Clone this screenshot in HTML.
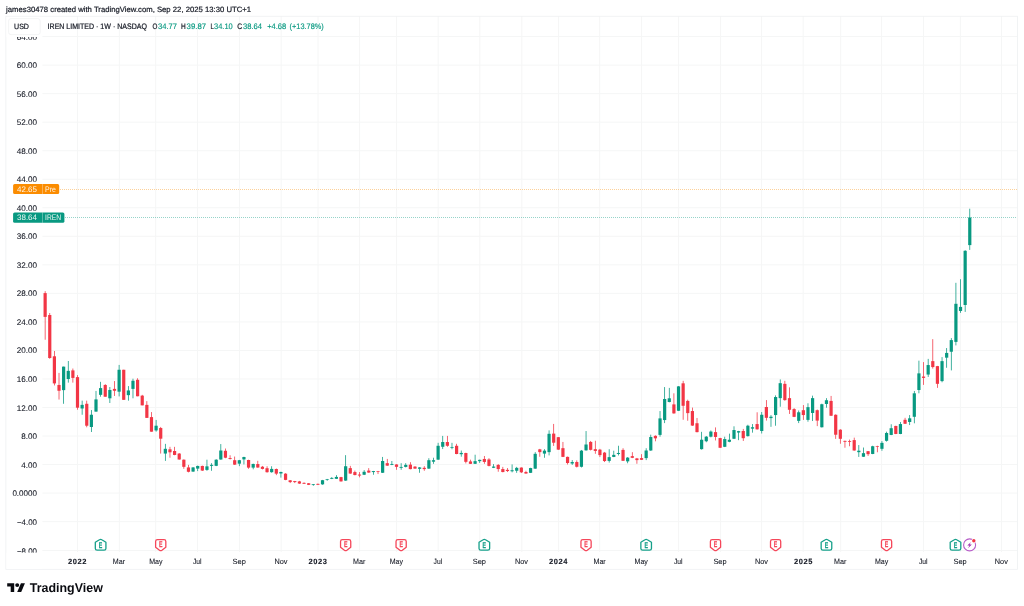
<!DOCTYPE html>
<html><head><meta charset="utf-8"><title>IREN chart</title>
<style>
html,body{margin:0;padding:0;background:#fff;}
body{width:1024px;height:606px;overflow:hidden;font-family:"Liberation Sans",sans-serif;}
svg{display:block;position:absolute;left:0;top:0;will-change:transform;}
text{font-family:"Liberation Sans",sans-serif;text-rendering:geometricPrecision;}
</style></head><body>
<svg width="1024" height="606" viewBox="0 0 1024 606">
<rect width="1024" height="606" fill="#ffffff"/>
<g stroke="#f5f6f6" stroke-width="1" fill="none">
<line x1="77.5" y1="16.25" x2="77.5" y2="552.0"/>
<line x1="119.4" y1="16.25" x2="119.4" y2="552.0"/>
<line x1="155.7" y1="16.25" x2="155.7" y2="552.0"/>
<line x1="197.5" y1="16.25" x2="197.5" y2="552.0"/>
<line x1="239.5" y1="16.25" x2="239.5" y2="552.0"/>
<line x1="281.2" y1="16.25" x2="281.2" y2="552.0"/>
<line x1="318.0" y1="16.25" x2="318.0" y2="552.0"/>
<line x1="359.6" y1="16.25" x2="359.6" y2="552.0"/>
<line x1="396.6" y1="16.25" x2="396.6" y2="552.0"/>
<line x1="438.2" y1="16.25" x2="438.2" y2="552.0"/>
<line x1="479.8" y1="16.25" x2="479.8" y2="552.0"/>
<line x1="521.8" y1="16.25" x2="521.8" y2="552.0"/>
<line x1="558.6" y1="16.25" x2="558.6" y2="552.0"/>
<line x1="599.7" y1="16.25" x2="599.7" y2="552.0"/>
<line x1="641.6" y1="16.25" x2="641.6" y2="552.0"/>
<line x1="678.6" y1="16.25" x2="678.6" y2="552.0"/>
<line x1="720.6" y1="16.25" x2="720.6" y2="552.0"/>
<line x1="761.6" y1="16.25" x2="761.6" y2="552.0"/>
<line x1="803.2" y1="16.25" x2="803.2" y2="552.0"/>
<line x1="840.7" y1="16.25" x2="840.7" y2="552.0"/>
<line x1="881.6" y1="16.25" x2="881.6" y2="552.0"/>
<line x1="923.5" y1="16.25" x2="923.5" y2="552.0"/>
<line x1="960.4" y1="16.25" x2="960.4" y2="552.0"/>
<line x1="1001.5" y1="16.25" x2="1001.5" y2="552.0"/>
<line x1="42.4" y1="521.63" x2="1017.5" y2="521.63"/>
<line x1="42.4" y1="493.10" x2="1017.5" y2="493.10"/>
<line x1="42.4" y1="464.57" x2="1017.5" y2="464.57"/>
<line x1="42.4" y1="436.04" x2="1017.5" y2="436.04"/>
<line x1="42.4" y1="407.50" x2="1017.5" y2="407.50"/>
<line x1="42.4" y1="378.97" x2="1017.5" y2="378.97"/>
<line x1="42.4" y1="350.44" x2="1017.5" y2="350.44"/>
<line x1="42.4" y1="321.91" x2="1017.5" y2="321.91"/>
<line x1="42.4" y1="293.38" x2="1017.5" y2="293.38"/>
<line x1="42.4" y1="264.84" x2="1017.5" y2="264.84"/>
<line x1="42.4" y1="236.31" x2="1017.5" y2="236.31"/>
<line x1="42.4" y1="207.78" x2="1017.5" y2="207.78"/>
<line x1="42.4" y1="179.25" x2="1017.5" y2="179.25"/>
<line x1="42.4" y1="150.72" x2="1017.5" y2="150.72"/>
<line x1="42.4" y1="122.18" x2="1017.5" y2="122.18"/>
<line x1="42.4" y1="93.65" x2="1017.5" y2="93.65"/>
<line x1="42.4" y1="65.12" x2="1017.5" y2="65.12"/>
<line x1="42.4" y1="36.59" x2="1017.5" y2="36.59"/>
<line x1="42.4" y1="550.5" x2="1017.5" y2="550.5"/>
</g>
<rect x="5.9" y="16.25" width="1011.6" height="553.05" fill="none" stroke="#eef0f2" stroke-width="0.8"/>
<line x1="60" y1="189.5" x2="1017" y2="189.5" stroke="#fb8c00" stroke-opacity="0.4" stroke-width="1" stroke-dasharray="1 1"/>
<line x1="65" y1="217.5" x2="1017" y2="217.5" stroke="#089981" stroke-opacity="0.42" stroke-width="1" stroke-dasharray="1 1"/>
<g>
<rect x="44.76" y="291.14" width="0.76" height="48.61" fill="#f23645"/><rect x="43.54" y="293.12" width="3.2" height="23.76" fill="#f23645"/>
<rect x="49.38" y="313.00" width="0.76" height="45.80" fill="#f23645"/><rect x="48.16" y="315.00" width="3.2" height="43.00" fill="#f23645"/>
<rect x="54.01" y="350.96" width="0.76" height="34.48" fill="#f23645"/><rect x="52.79" y="356.29" width="3.2" height="27.12" fill="#f23645"/>
<rect x="58.63" y="372.90" width="0.76" height="26.65" fill="#f23645"/><rect x="57.41" y="384.97" width="3.2" height="5.80" fill="#f23645"/>
<rect x="63.25" y="366.63" width="0.76" height="37.15" fill="#089981"/><rect x="62.03" y="366.63" width="3.2" height="23.51" fill="#089981"/>
<rect x="67.88" y="360.99" width="0.76" height="21.63" fill="#089981"/><rect x="66.66" y="370.86" width="3.2" height="8.15" fill="#089981"/>
<rect x="72.50" y="368.51" width="0.76" height="14.11" fill="#f23645"/><rect x="71.28" y="370.39" width="3.2" height="7.52" fill="#f23645"/>
<rect x="77.12" y="375.09" width="0.76" height="34.64" fill="#f23645"/><rect x="75.90" y="377.13" width="3.2" height="30.56" fill="#f23645"/>
<rect x="81.75" y="400.64" width="0.76" height="14.11" fill="#089981"/><rect x="80.53" y="404.87" width="3.2" height="3.61" fill="#089981"/>
<rect x="86.37" y="400.64" width="0.76" height="26.65" fill="#f23645"/><rect x="85.15" y="403.78" width="3.2" height="21.94" fill="#f23645"/>
<rect x="90.99" y="410.05" width="0.76" height="21.94" fill="#089981"/><rect x="89.77" y="414.75" width="3.2" height="12.23" fill="#089981"/>
<rect x="95.62" y="390.92" width="0.76" height="20.69" fill="#089981"/><rect x="94.40" y="399.39" width="3.2" height="12.23" fill="#089981"/>
<rect x="100.24" y="381.83" width="0.76" height="14.89" fill="#089981"/><rect x="99.02" y="388.10" width="3.2" height="6.74" fill="#089981"/>
<rect x="104.86" y="384.18" width="0.76" height="12.54" fill="#f23645"/><rect x="103.64" y="384.97" width="3.2" height="11.76" fill="#f23645"/>
<rect x="109.48" y="387.01" width="0.76" height="15.99" fill="#089981"/><rect x="108.26" y="389.98" width="3.2" height="8.31" fill="#089981"/>
<rect x="114.11" y="381.05" width="0.76" height="14.89" fill="#f23645"/><rect x="112.89" y="388.89" width="3.2" height="1.88" fill="#f23645"/>
<rect x="118.73" y="364.91" width="0.76" height="31.50" fill="#089981"/><rect x="117.51" y="369.76" width="3.2" height="21.94" fill="#089981"/>
<rect x="123.35" y="369.76" width="0.76" height="30.09" fill="#f23645"/><rect x="122.13" y="369.76" width="3.2" height="30.09" fill="#f23645"/>
<rect x="127.98" y="386.07" width="0.76" height="14.58" fill="#089981"/><rect x="126.76" y="390.45" width="3.2" height="4.70" fill="#089981"/>
<rect x="132.60" y="378.70" width="0.76" height="19.59" fill="#089981"/><rect x="131.38" y="380.74" width="3.2" height="8.15" fill="#089981"/>
<rect x="137.22" y="378.23" width="0.76" height="18.03" fill="#f23645"/><rect x="136.00" y="379.80" width="3.2" height="16.46" fill="#f23645"/>
<rect x="141.85" y="394.84" width="0.76" height="10.50" fill="#f23645"/><rect x="140.63" y="395.63" width="3.2" height="9.72" fill="#f23645"/>
<rect x="146.47" y="401.11" width="0.76" height="16.77" fill="#f23645"/><rect x="145.25" y="404.87" width="3.2" height="13.01" fill="#f23645"/>
<rect x="151.09" y="412.08" width="0.76" height="19.59" fill="#f23645"/><rect x="149.87" y="417.10" width="3.2" height="14.58" fill="#f23645"/>
<rect x="155.72" y="419.92" width="0.76" height="11.76" fill="#089981"/><rect x="154.50" y="425.72" width="3.2" height="4.70" fill="#089981"/>
<rect x="160.34" y="426.93" width="0.76" height="26.65" fill="#f23645"/><rect x="159.12" y="428.03" width="3.2" height="10.66" fill="#f23645"/>
<rect x="164.96" y="443.86" width="0.76" height="17.03" fill="#089981"/><rect x="163.74" y="448.81" width="3.2" height="4.75" fill="#089981"/>
<rect x="169.59" y="446.83" width="0.76" height="10.89" fill="#f23645"/><rect x="168.37" y="449.31" width="3.2" height="2.97" fill="#f23645"/>
<rect x="174.21" y="446.83" width="0.76" height="8.42" fill="#f23645"/><rect x="172.99" y="450.99" width="3.2" height="3.96" fill="#f23645"/>
<rect x="178.83" y="453.07" width="0.76" height="6.63" fill="#f23645"/><rect x="177.61" y="453.56" width="3.2" height="5.94" fill="#f23645"/>
<rect x="183.46" y="459.41" width="0.76" height="9.41" fill="#f23645"/><rect x="182.24" y="459.70" width="3.2" height="7.13" fill="#f23645"/>
<rect x="188.08" y="464.85" width="0.76" height="7.52" fill="#f23645"/><rect x="186.86" y="467.43" width="3.2" height="4.36" fill="#f23645"/>
<rect x="192.70" y="467.13" width="0.76" height="4.65" fill="#089981"/><rect x="191.48" y="467.43" width="3.2" height="4.16" fill="#089981"/>
<rect x="197.33" y="465.64" width="0.76" height="5.45" fill="#089981"/><rect x="196.11" y="465.94" width="3.2" height="2.67" fill="#089981"/>
<rect x="201.95" y="465.64" width="0.76" height="5.25" fill="#f23645"/><rect x="200.73" y="465.94" width="3.2" height="4.65" fill="#f23645"/>
<rect x="206.57" y="459.70" width="0.76" height="11.09" fill="#089981"/><rect x="205.35" y="466.34" width="3.2" height="3.56" fill="#089981"/>
<rect x="211.20" y="463.17" width="0.76" height="7.62" fill="#089981"/><rect x="209.98" y="464.85" width="3.2" height="0.99" fill="#089981"/>
<rect x="215.82" y="459.21" width="0.76" height="6.93" fill="#089981"/><rect x="214.60" y="459.70" width="3.2" height="6.14" fill="#089981"/>
<rect x="220.44" y="444.06" width="0.76" height="15.64" fill="#089981"/><rect x="219.22" y="450.50" width="3.2" height="9.01" fill="#089981"/>
<rect x="225.06" y="448.51" width="0.76" height="9.70" fill="#f23645"/><rect x="223.84" y="450.79" width="3.2" height="6.93" fill="#f23645"/>
<rect x="229.69" y="455.25" width="0.76" height="4.26" fill="#f23645"/><rect x="228.47" y="458.02" width="3.2" height="0.89" fill="#f23645"/>
<rect x="234.31" y="456.53" width="0.76" height="8.42" fill="#f23645"/><rect x="233.09" y="460.20" width="3.2" height="4.46" fill="#f23645"/>
<rect x="238.93" y="459.90" width="0.76" height="6.24" fill="#089981"/><rect x="237.71" y="460.20" width="3.2" height="3.47" fill="#089981"/>
<rect x="243.56" y="456.73" width="0.76" height="7.72" fill="#089981"/><rect x="242.34" y="457.03" width="3.2" height="2.38" fill="#089981"/>
<rect x="248.18" y="459.70" width="0.76" height="9.11" fill="#f23645"/><rect x="246.96" y="460.00" width="3.2" height="7.62" fill="#f23645"/>
<rect x="252.80" y="463.66" width="0.76" height="5.64" fill="#089981"/><rect x="251.58" y="463.96" width="3.2" height="3.66" fill="#089981"/>
<rect x="257.43" y="460.79" width="0.76" height="6.93" fill="#f23645"/><rect x="256.21" y="464.06" width="3.2" height="3.47" fill="#f23645"/>
<rect x="262.05" y="465.94" width="0.76" height="3.47" fill="#f23645"/><rect x="260.83" y="466.73" width="3.2" height="2.18" fill="#f23645"/>
<rect x="266.67" y="466.24" width="0.76" height="6.44" fill="#f23645"/><rect x="265.45" y="468.22" width="3.2" height="3.96" fill="#f23645"/>
<rect x="271.30" y="466.24" width="0.76" height="6.44" fill="#089981"/><rect x="270.08" y="468.91" width="3.2" height="3.27" fill="#089981"/>
<rect x="275.92" y="468.51" width="0.76" height="6.63" fill="#f23645"/><rect x="274.70" y="469.01" width="3.2" height="4.65" fill="#f23645"/>
<rect x="280.54" y="471.68" width="0.76" height="5.94" fill="#089981"/><rect x="279.32" y="471.98" width="3.2" height="1.49" fill="#089981"/>
<rect x="285.17" y="473.17" width="0.76" height="7.03" fill="#f23645"/><rect x="283.95" y="473.66" width="3.2" height="6.24" fill="#f23645"/>
<rect x="289.79" y="480.10" width="0.76" height="2.97" fill="#f23645"/><rect x="288.57" y="480.30" width="3.2" height="1.78" fill="#f23645"/>
<rect x="294.41" y="480.89" width="0.76" height="2.18" fill="#f23645"/><rect x="293.19" y="481.09" width="3.2" height="0.99" fill="#f23645"/>
<rect x="299.04" y="480.89" width="0.76" height="2.97" fill="#f23645"/><rect x="297.82" y="481.39" width="3.2" height="2.18" fill="#f23645"/>
<rect x="303.66" y="482.38" width="0.76" height="1.58" fill="#f23645"/><rect x="302.44" y="482.87" width="3.2" height="0.89" fill="#f23645"/>
<rect x="308.28" y="483.07" width="0.76" height="1.98" fill="#f23645"/><rect x="307.06" y="483.27" width="3.2" height="1.58" fill="#f23645"/>
<rect x="312.91" y="484.06" width="0.76" height="1.68" fill="#089981"/><rect x="311.69" y="484.26" width="3.2" height="0.79" fill="#089981"/>
<rect x="317.53" y="483.56" width="0.76" height="1.49" fill="#f23645"/><rect x="316.31" y="483.86" width="3.2" height="0.89" fill="#f23645"/>
<rect x="322.15" y="479.90" width="0.76" height="4.85" fill="#089981"/><rect x="320.93" y="480.20" width="3.2" height="4.16" fill="#089981"/>
<rect x="326.78" y="478.91" width="0.76" height="1.88" fill="#089981"/><rect x="325.56" y="479.20" width="3.2" height="0.70" fill="#089981"/>
<rect x="331.40" y="477.13" width="0.76" height="1.98" fill="#089981"/><rect x="330.18" y="477.92" width="3.2" height="0.89" fill="#089981"/>
<rect x="336.02" y="475.15" width="0.76" height="3.86" fill="#089981"/><rect x="334.80" y="476.93" width="3.2" height="1.88" fill="#089981"/>
<rect x="340.64" y="476.83" width="0.76" height="4.75" fill="#f23645"/><rect x="339.42" y="477.13" width="3.2" height="4.26" fill="#f23645"/>
<rect x="345.27" y="455.15" width="0.76" height="25.64" fill="#089981"/><rect x="344.05" y="466.24" width="3.2" height="14.36" fill="#089981"/>
<rect x="349.89" y="465.84" width="0.76" height="7.92" fill="#f23645"/><rect x="348.67" y="468.12" width="3.2" height="5.45" fill="#f23645"/>
<rect x="354.51" y="470.59" width="0.76" height="4.75" fill="#f23645"/><rect x="353.29" y="472.08" width="3.2" height="2.97" fill="#f23645"/>
<rect x="359.14" y="472.08" width="0.76" height="5.25" fill="#f23645"/><rect x="357.92" y="474.55" width="3.2" height="0.99" fill="#f23645"/>
<rect x="363.76" y="470.10" width="0.76" height="4.95" fill="#089981"/><rect x="362.54" y="471.78" width="3.2" height="2.97" fill="#089981"/>
<rect x="368.38" y="468.12" width="0.76" height="4.65" fill="#f23645"/><rect x="367.16" y="470.59" width="3.2" height="1.98" fill="#f23645"/>
<rect x="373.01" y="470.89" width="0.76" height="3.86" fill="#089981"/><rect x="371.79" y="471.09" width="3.2" height="0.99" fill="#089981"/>
<rect x="377.63" y="470.89" width="0.76" height="3.17" fill="#f23645"/><rect x="376.41" y="471.09" width="3.2" height="0.70" fill="#f23645"/>
<rect x="382.25" y="456.93" width="0.76" height="16.04" fill="#089981"/><rect x="381.03" y="460.99" width="3.2" height="11.78" fill="#089981"/>
<rect x="386.88" y="458.91" width="0.76" height="6.93" fill="#f23645"/><rect x="385.66" y="463.17" width="3.2" height="2.48" fill="#f23645"/>
<rect x="391.50" y="460.99" width="0.76" height="4.16" fill="#089981"/><rect x="390.28" y="463.96" width="3.2" height="0.89" fill="#089981"/>
<rect x="396.12" y="464.16" width="0.76" height="5.64" fill="#f23645"/><rect x="394.90" y="464.46" width="3.2" height="2.38" fill="#f23645"/>
<rect x="400.75" y="463.17" width="0.76" height="6.63" fill="#089981"/><rect x="399.53" y="466.93" width="3.2" height="0.89" fill="#089981"/>
<rect x="405.37" y="463.17" width="0.76" height="4.26" fill="#089981"/><rect x="404.15" y="464.85" width="3.2" height="2.08" fill="#089981"/>
<rect x="409.99" y="462.18" width="0.76" height="7.13" fill="#f23645"/><rect x="408.77" y="464.65" width="3.2" height="4.46" fill="#f23645"/>
<rect x="414.62" y="466.14" width="0.76" height="2.67" fill="#f23645"/><rect x="413.40" y="466.63" width="3.2" height="1.98" fill="#f23645"/>
<rect x="419.24" y="467.13" width="0.76" height="5.64" fill="#089981"/><rect x="418.02" y="467.43" width="3.2" height="1.39" fill="#089981"/>
<rect x="423.86" y="466.14" width="0.76" height="4.65" fill="#f23645"/><rect x="422.64" y="467.82" width="3.2" height="1.29" fill="#f23645"/>
<rect x="428.49" y="458.22" width="0.76" height="10.59" fill="#089981"/><rect x="427.27" y="460.20" width="3.2" height="8.42" fill="#089981"/>
<rect x="433.11" y="457.72" width="0.76" height="6.14" fill="#089981"/><rect x="431.89" y="460.20" width="3.2" height="1.49" fill="#089981"/>
<rect x="437.73" y="442.82" width="0.76" height="17.03" fill="#089981"/><rect x="436.51" y="445.79" width="3.2" height="13.86" fill="#089981"/>
<rect x="442.36" y="435.89" width="0.76" height="13.17" fill="#089981"/><rect x="441.14" y="442.03" width="3.2" height="4.75" fill="#089981"/>
<rect x="446.98" y="435.89" width="0.76" height="10.89" fill="#f23645"/><rect x="445.76" y="442.03" width="3.2" height="3.76" fill="#f23645"/>
<rect x="451.60" y="442.82" width="0.76" height="6.44" fill="#089981"/><rect x="450.38" y="446.98" width="3.2" height="0.79" fill="#089981"/>
<rect x="456.22" y="443.81" width="0.76" height="10.40" fill="#f23645"/><rect x="455.00" y="445.79" width="3.2" height="8.22" fill="#f23645"/>
<rect x="460.85" y="450.54" width="0.76" height="6.14" fill="#089981"/><rect x="459.63" y="452.92" width="3.2" height="1.29" fill="#089981"/>
<rect x="465.47" y="452.72" width="0.76" height="10.69" fill="#f23645"/><rect x="464.25" y="453.02" width="3.2" height="8.81" fill="#f23645"/>
<rect x="470.09" y="459.65" width="0.76" height="4.36" fill="#f23645"/><rect x="468.87" y="461.44" width="3.2" height="2.38" fill="#f23645"/>
<rect x="474.72" y="454.70" width="0.76" height="9.31" fill="#089981"/><rect x="473.50" y="461.14" width="3.2" height="2.67" fill="#089981"/>
<rect x="479.34" y="459.65" width="0.76" height="3.27" fill="#089981"/><rect x="478.12" y="459.85" width="3.2" height="1.29" fill="#089981"/>
<rect x="483.96" y="455.99" width="0.76" height="7.82" fill="#f23645"/><rect x="482.74" y="458.96" width="3.2" height="2.97" fill="#f23645"/>
<rect x="488.59" y="458.17" width="0.76" height="8.22" fill="#f23645"/><rect x="487.37" y="459.46" width="3.2" height="6.44" fill="#f23645"/>
<rect x="493.21" y="464.11" width="0.76" height="3.96" fill="#089981"/><rect x="491.99" y="466.58" width="3.2" height="1.19" fill="#089981"/>
<rect x="497.83" y="464.11" width="0.76" height="7.62" fill="#f23645"/><rect x="496.61" y="464.90" width="3.2" height="4.16" fill="#f23645"/>
<rect x="502.46" y="466.88" width="0.76" height="5.45" fill="#f23645"/><rect x="501.24" y="469.06" width="3.2" height="2.97" fill="#f23645"/>
<rect x="507.08" y="468.07" width="0.76" height="3.96" fill="#f23645"/><rect x="505.86" y="469.85" width="3.2" height="1.19" fill="#f23645"/>
<rect x="511.70" y="464.41" width="0.76" height="7.92" fill="#089981"/><rect x="510.48" y="470.25" width="3.2" height="0.99" fill="#089981"/>
<rect x="516.33" y="466.88" width="0.76" height="5.94" fill="#089981"/><rect x="515.11" y="467.87" width="3.2" height="2.87" fill="#089981"/>
<rect x="520.95" y="467.38" width="0.76" height="5.64" fill="#f23645"/><rect x="519.73" y="467.57" width="3.2" height="4.75" fill="#f23645"/>
<rect x="525.57" y="470.74" width="0.76" height="2.97" fill="#f23645"/><rect x="524.35" y="472.03" width="3.2" height="1.49" fill="#f23645"/>
<rect x="530.20" y="467.77" width="0.76" height="5.25" fill="#089981"/><rect x="528.98" y="468.07" width="3.2" height="4.75" fill="#089981"/>
<rect x="534.82" y="452.13" width="0.76" height="16.73" fill="#089981"/><rect x="533.60" y="453.81" width="3.2" height="14.85" fill="#089981"/>
<rect x="539.44" y="448.86" width="0.76" height="7.92" fill="#f23645"/><rect x="538.22" y="449.36" width="3.2" height="2.77" fill="#f23645"/>
<rect x="544.07" y="449.16" width="0.76" height="8.61" fill="#089981"/><rect x="542.85" y="450.64" width="3.2" height="2.97" fill="#089981"/>
<rect x="548.69" y="430.35" width="0.76" height="25.05" fill="#089981"/><rect x="547.47" y="433.81" width="3.2" height="18.32" fill="#089981"/>
<rect x="553.31" y="423.91" width="0.76" height="21.98" fill="#f23645"/><rect x="552.09" y="433.61" width="3.2" height="9.11" fill="#f23645"/>
<rect x="557.94" y="436.98" width="0.76" height="12.87" fill="#f23645"/><rect x="556.72" y="437.18" width="3.2" height="12.48" fill="#f23645"/>
<rect x="562.56" y="441.93" width="0.76" height="15.15" fill="#f23645"/><rect x="561.34" y="448.17" width="3.2" height="8.71" fill="#f23645"/>
<rect x="567.18" y="456.58" width="0.76" height="7.92" fill="#f23645"/><rect x="565.96" y="456.88" width="3.2" height="6.14" fill="#f23645"/>
<rect x="571.80" y="460.05" width="0.76" height="4.95" fill="#089981"/><rect x="570.58" y="462.03" width="3.2" height="1.49" fill="#089981"/>
<rect x="576.43" y="460.35" width="0.76" height="7.13" fill="#f23645"/><rect x="575.21" y="462.03" width="3.2" height="4.75" fill="#f23645"/>
<rect x="581.05" y="449.95" width="0.76" height="17.52" fill="#089981"/><rect x="579.83" y="450.64" width="3.2" height="16.14" fill="#089981"/>
<rect x="585.67" y="431.04" width="0.76" height="19.60" fill="#089981"/><rect x="584.45" y="444.50" width="3.2" height="5.84" fill="#089981"/>
<rect x="590.30" y="440.94" width="0.76" height="9.50" fill="#f23645"/><rect x="589.08" y="441.93" width="3.2" height="7.92" fill="#f23645"/>
<rect x="594.92" y="440.74" width="0.76" height="13.07" fill="#f23645"/><rect x="593.70" y="449.16" width="3.2" height="1.78" fill="#f23645"/>
<rect x="599.54" y="448.86" width="0.76" height="8.22" fill="#f23645"/><rect x="598.32" y="449.65" width="3.2" height="5.45" fill="#f23645"/>
<rect x="604.17" y="451.93" width="0.76" height="10.10" fill="#f23645"/><rect x="602.95" y="452.62" width="3.2" height="8.42" fill="#f23645"/>
<rect x="608.79" y="449.21" width="0.76" height="13.37" fill="#089981"/><rect x="607.57" y="457.13" width="3.2" height="3.76" fill="#089981"/>
<rect x="613.41" y="450.69" width="0.76" height="6.44" fill="#089981"/><rect x="612.19" y="454.85" width="3.2" height="2.08" fill="#089981"/>
<rect x="618.04" y="445.74" width="0.76" height="9.70" fill="#089981"/><rect x="616.82" y="452.97" width="3.2" height="0.99" fill="#089981"/>
<rect x="622.66" y="448.22" width="0.76" height="12.77" fill="#f23645"/><rect x="621.44" y="449.90" width="3.2" height="10.89" fill="#f23645"/>
<rect x="627.28" y="457.13" width="0.76" height="6.14" fill="#089981"/><rect x="626.06" y="457.62" width="3.2" height="3.76" fill="#089981"/>
<rect x="631.91" y="452.18" width="0.76" height="5.94" fill="#f23645"/><rect x="630.69" y="456.14" width="3.2" height="1.68" fill="#f23645"/>
<rect x="636.53" y="457.92" width="0.76" height="5.84" fill="#f23645"/><rect x="635.31" y="458.42" width="3.2" height="1.68" fill="#f23645"/>
<rect x="641.15" y="454.16" width="0.76" height="5.84" fill="#f23645"/><rect x="639.93" y="458.12" width="3.2" height="1.68" fill="#f23645"/>
<rect x="645.78" y="448.22" width="0.76" height="11.88" fill="#089981"/><rect x="644.56" y="450.50" width="3.2" height="7.62" fill="#089981"/>
<rect x="650.40" y="434.65" width="0.76" height="16.24" fill="#089981"/><rect x="649.18" y="437.03" width="3.2" height="13.47" fill="#089981"/>
<rect x="655.02" y="435.35" width="0.76" height="5.94" fill="#f23645"/><rect x="653.80" y="435.84" width="3.2" height="2.48" fill="#f23645"/>
<rect x="659.65" y="411.04" width="0.76" height="25.64" fill="#089981"/><rect x="658.43" y="418.39" width="3.2" height="16.50" fill="#089981"/>
<rect x="664.27" y="387.06" width="0.76" height="36.04" fill="#089981"/><rect x="663.05" y="398.98" width="3.2" height="21.07" fill="#089981"/>
<rect x="668.89" y="387.89" width="0.76" height="14.42" fill="#089981"/><rect x="667.67" y="398.29" width="3.2" height="3.74" fill="#089981"/>
<rect x="673.52" y="393.30" width="0.76" height="20.38" fill="#f23645"/><rect x="672.30" y="404.39" width="3.2" height="9.01" fill="#f23645"/>
<rect x="678.14" y="386.09" width="0.76" height="24.95" fill="#089981"/><rect x="676.92" y="386.37" width="3.2" height="24.40" fill="#089981"/>
<rect x="682.76" y="380.82" width="0.76" height="38.95" fill="#f23645"/><rect x="681.54" y="383.32" width="3.2" height="22.46" fill="#f23645"/>
<rect x="687.38" y="399.67" width="0.76" height="21.07" fill="#f23645"/><rect x="686.16" y="400.92" width="3.2" height="12.20" fill="#f23645"/>
<rect x="692.01" y="407.57" width="0.76" height="18.30" fill="#f23645"/><rect x="690.79" y="411.04" width="3.2" height="14.55" fill="#f23645"/>
<rect x="696.63" y="417.97" width="0.76" height="14.42" fill="#f23645"/><rect x="695.41" y="423.24" width="3.2" height="8.87" fill="#f23645"/>
<rect x="701.25" y="431.83" width="0.76" height="17.74" fill="#089981"/><rect x="700.03" y="439.73" width="3.2" height="9.43" fill="#089981"/>
<rect x="705.88" y="435.99" width="0.76" height="6.24" fill="#089981"/><rect x="704.66" y="436.68" width="3.2" height="4.57" fill="#089981"/>
<rect x="710.50" y="430.45" width="0.76" height="6.93" fill="#089981"/><rect x="709.28" y="431.55" width="3.2" height="5.13" fill="#089981"/>
<rect x="715.12" y="427.40" width="0.76" height="13.03" fill="#f23645"/><rect x="713.90" y="432.11" width="3.2" height="4.85" fill="#f23645"/>
<rect x="719.75" y="437.79" width="0.76" height="10.26" fill="#f23645"/><rect x="718.53" y="438.07" width="3.2" height="9.70" fill="#f23645"/>
<rect x="724.37" y="436.68" width="0.76" height="10.40" fill="#089981"/><rect x="723.15" y="439.04" width="3.2" height="7.76" fill="#089981"/>
<rect x="728.99" y="433.63" width="0.76" height="8.59" fill="#089981"/><rect x="727.77" y="439.73" width="3.2" height="2.08" fill="#089981"/>
<rect x="733.62" y="426.29" width="0.76" height="12.75" fill="#089981"/><rect x="732.40" y="430.03" width="3.2" height="8.73" fill="#089981"/>
<rect x="738.24" y="430.86" width="0.76" height="9.29" fill="#089981"/><rect x="737.02" y="431.14" width="3.2" height="1.39" fill="#089981"/>
<rect x="742.86" y="428.91" width="0.76" height="12.06" fill="#f23645"/><rect x="741.64" y="430.99" width="3.2" height="7.21" fill="#f23645"/>
<rect x="747.49" y="424.75" width="0.76" height="11.78" fill="#089981"/><rect x="746.27" y="425.72" width="3.2" height="10.40" fill="#089981"/>
<rect x="752.11" y="424.06" width="0.76" height="8.59" fill="#089981"/><rect x="750.89" y="427.25" width="3.2" height="1.39" fill="#089981"/>
<rect x="756.73" y="412.28" width="0.76" height="17.33" fill="#f23645"/><rect x="755.51" y="424.06" width="3.2" height="5.27" fill="#f23645"/>
<rect x="761.36" y="412.00" width="0.76" height="21.49" fill="#089981"/><rect x="760.14" y="414.77" width="3.2" height="16.22" fill="#089981"/>
<rect x="765.98" y="400.08" width="0.76" height="20.51" fill="#f23645"/><rect x="764.76" y="407.01" width="3.2" height="10.81" fill="#f23645"/>
<rect x="770.60" y="415.05" width="0.76" height="11.78" fill="#089981"/><rect x="769.38" y="416.71" width="3.2" height="1.39" fill="#089981"/>
<rect x="775.23" y="395.37" width="0.76" height="30.36" fill="#089981"/><rect x="774.01" y="397.03" width="3.2" height="18.02" fill="#089981"/>
<rect x="779.85" y="379.43" width="0.76" height="27.31" fill="#089981"/><rect x="778.63" y="383.17" width="3.2" height="14.97" fill="#089981"/>
<rect x="784.47" y="380.81" width="0.76" height="19.96" fill="#f23645"/><rect x="783.25" y="383.86" width="3.2" height="16.22" fill="#f23645"/>
<rect x="789.10" y="387.33" width="0.76" height="26.61" fill="#f23645"/><rect x="787.88" y="398.14" width="3.2" height="11.64" fill="#f23645"/>
<rect x="793.72" y="408.12" width="0.76" height="9.01" fill="#f23645"/><rect x="792.50" y="409.09" width="3.2" height="7.76" fill="#f23645"/>
<rect x="798.34" y="410.48" width="0.76" height="12.61" fill="#089981"/><rect x="797.12" y="412.28" width="3.2" height="8.59" fill="#089981"/>
<rect x="802.96" y="405.07" width="0.76" height="14.83" fill="#f23645"/><rect x="801.74" y="410.20" width="3.2" height="4.85" fill="#f23645"/>
<rect x="807.59" y="403.27" width="0.76" height="18.44" fill="#089981"/><rect x="806.37" y="407.15" width="3.2" height="12.75" fill="#089981"/>
<rect x="812.21" y="395.64" width="0.76" height="25.37" fill="#089981"/><rect x="810.99" y="398.14" width="3.2" height="14.83" fill="#089981"/>
<rect x="816.83" y="409.50" width="0.76" height="16.63" fill="#f23645"/><rect x="815.61" y="410.20" width="3.2" height="10.40" fill="#f23645"/>
<rect x="821.46" y="403.68" width="0.76" height="23.84" fill="#089981"/><rect x="820.24" y="404.24" width="3.2" height="23.01" fill="#089981"/>
<rect x="826.08" y="398.14" width="0.76" height="9.56" fill="#089981"/><rect x="824.86" y="400.22" width="3.2" height="3.74" fill="#089981"/>
<rect x="830.70" y="395.92" width="0.76" height="20.10" fill="#f23645"/><rect x="829.48" y="400.91" width="3.2" height="14.83" fill="#f23645"/>
<rect x="835.33" y="414.36" width="0.76" height="24.53" fill="#f23645"/><rect x="834.11" y="414.77" width="3.2" height="19.96" fill="#f23645"/>
<rect x="839.95" y="429.21" width="0.76" height="14.55" fill="#f23645"/><rect x="838.73" y="429.70" width="3.2" height="9.11" fill="#f23645"/>
<rect x="844.57" y="440.59" width="0.76" height="7.13" fill="#f23645"/><rect x="843.35" y="440.89" width="3.2" height="0.89" fill="#f23645"/>
<rect x="849.20" y="439.60" width="0.76" height="6.63" fill="#f23645"/><rect x="847.98" y="441.09" width="3.2" height="0.79" fill="#f23645"/>
<rect x="853.82" y="437.62" width="0.76" height="13.07" fill="#f23645"/><rect x="852.60" y="440.10" width="3.2" height="10.40" fill="#f23645"/>
<rect x="858.44" y="445.05" width="0.76" height="11.88" fill="#089981"/><rect x="857.22" y="450.69" width="3.2" height="1.49" fill="#089981"/>
<rect x="863.07" y="447.52" width="0.76" height="9.41" fill="#089981"/><rect x="861.85" y="453.17" width="3.2" height="3.56" fill="#089981"/>
<rect x="867.69" y="450.99" width="0.76" height="4.95" fill="#f23645"/><rect x="866.47" y="451.19" width="3.2" height="2.97" fill="#f23645"/>
<rect x="872.31" y="445.74" width="0.76" height="8.42" fill="#089981"/><rect x="871.09" y="446.24" width="3.2" height="7.72" fill="#089981"/>
<rect x="876.94" y="445.74" width="0.76" height="6.53" fill="#f23645"/><rect x="875.72" y="446.04" width="3.2" height="0.70" fill="#f23645"/>
<rect x="881.56" y="441.09" width="0.76" height="9.70" fill="#089981"/><rect x="880.34" y="442.87" width="3.2" height="5.94" fill="#089981"/>
<rect x="886.18" y="431.68" width="0.76" height="9.90" fill="#089981"/><rect x="884.96" y="432.97" width="3.2" height="7.82" fill="#089981"/>
<rect x="890.81" y="424.26" width="0.76" height="10.89" fill="#089981"/><rect x="889.59" y="428.22" width="3.2" height="6.73" fill="#089981"/>
<rect x="895.43" y="425.74" width="0.76" height="8.42" fill="#f23645"/><rect x="894.21" y="425.94" width="3.2" height="8.02" fill="#f23645"/>
<rect x="900.05" y="421.98" width="0.76" height="12.18" fill="#089981"/><rect x="898.83" y="424.06" width="3.2" height="9.90" fill="#089981"/>
<rect x="904.68" y="417.82" width="0.76" height="6.14" fill="#f23645"/><rect x="903.46" y="419.80" width="3.2" height="3.96" fill="#f23645"/>
<rect x="909.30" y="415.05" width="0.76" height="10.00" fill="#089981"/><rect x="908.08" y="418.32" width="3.2" height="3.66" fill="#089981"/>
<rect x="913.92" y="390.95" width="0.76" height="32.35" fill="#089981"/><rect x="912.70" y="393.30" width="3.2" height="23.50" fill="#089981"/>
<rect x="918.54" y="360.65" width="0.76" height="32.67" fill="#089981"/><rect x="917.32" y="373.37" width="3.2" height="16.63" fill="#089981"/>
<rect x="923.17" y="362.08" width="0.76" height="22.81" fill="#f23645"/><rect x="921.95" y="376.57" width="3.2" height="1.31" fill="#f23645"/>
<rect x="927.79" y="358.87" width="0.76" height="18.06" fill="#089981"/><rect x="926.57" y="365.05" width="3.2" height="9.50" fill="#089981"/>
<rect x="932.41" y="339.15" width="0.76" height="29.47" fill="#f23645"/><rect x="931.19" y="361.13" width="3.2" height="5.94" fill="#f23645"/>
<rect x="937.04" y="365.88" width="0.76" height="21.98" fill="#f23645"/><rect x="935.82" y="366.12" width="3.2" height="17.70" fill="#f23645"/>
<rect x="941.66" y="357.09" width="0.76" height="25.19" fill="#089981"/><rect x="940.44" y="361.13" width="3.2" height="19.96" fill="#089981"/>
<rect x="946.28" y="348.06" width="0.76" height="19.72" fill="#089981"/><rect x="945.06" y="352.93" width="3.2" height="4.75" fill="#089981"/>
<rect x="950.91" y="338.08" width="0.76" height="32.32" fill="#089981"/><rect x="949.69" y="340.10" width="3.2" height="11.64" fill="#089981"/>
<rect x="955.53" y="282.80" width="0.76" height="62.60" fill="#089981"/><rect x="954.31" y="303.80" width="3.2" height="38.10" fill="#089981"/>
<rect x="960.15" y="279.20" width="0.76" height="33.65" fill="#089981"/><rect x="958.93" y="306.90" width="3.2" height="4.05" fill="#089981"/>
<rect x="964.78" y="250.20" width="0.76" height="61.70" fill="#089981"/><rect x="963.56" y="250.80" width="3.2" height="54.20" fill="#089981"/>
<rect x="969.40" y="208.70" width="0.76" height="41.20" fill="#089981"/><rect x="968.18" y="217.50" width="3.2" height="27.60" fill="#089981"/>
</g>
<text x="16.90" y="553.56" font-size="8.1" font-weight="normal" fill="#131722" stroke="#131722" stroke-width="0.08" text-anchor="start" textLength="20.1" lengthAdjust="spacingAndGlyphs" xml:space="preserve">−8.00</text>
<text x="16.90" y="524.63" font-size="8.1" font-weight="normal" fill="#131722" stroke="#131722" stroke-width="0.08" text-anchor="start" textLength="20.1" lengthAdjust="spacingAndGlyphs" xml:space="preserve">−4.00</text>
<text x="12.40" y="496.10" font-size="8.1" font-weight="normal" fill="#131722" stroke="#131722" stroke-width="0.08" text-anchor="start" textLength="24.6" lengthAdjust="spacingAndGlyphs" xml:space="preserve">0.0000</text>
<text x="21.30" y="467.57" font-size="8.1" font-weight="normal" fill="#131722" stroke="#131722" stroke-width="0.08" text-anchor="start" textLength="15.7" lengthAdjust="spacingAndGlyphs" xml:space="preserve">4.00</text>
<text x="21.30" y="439.04" font-size="8.1" font-weight="normal" fill="#131722" stroke="#131722" stroke-width="0.08" text-anchor="start" textLength="15.7" lengthAdjust="spacingAndGlyphs" xml:space="preserve">8.00</text>
<text x="16.70" y="410.50" font-size="8.1" font-weight="normal" fill="#131722" stroke="#131722" stroke-width="0.08" text-anchor="start" textLength="20.3" lengthAdjust="spacingAndGlyphs" xml:space="preserve">12.00</text>
<text x="16.70" y="381.97" font-size="8.1" font-weight="normal" fill="#131722" stroke="#131722" stroke-width="0.08" text-anchor="start" textLength="20.3" lengthAdjust="spacingAndGlyphs" xml:space="preserve">16.00</text>
<text x="16.70" y="353.44" font-size="8.1" font-weight="normal" fill="#131722" stroke="#131722" stroke-width="0.08" text-anchor="start" textLength="20.3" lengthAdjust="spacingAndGlyphs" xml:space="preserve">20.00</text>
<text x="16.70" y="324.91" font-size="8.1" font-weight="normal" fill="#131722" stroke="#131722" stroke-width="0.08" text-anchor="start" textLength="20.3" lengthAdjust="spacingAndGlyphs" xml:space="preserve">24.00</text>
<text x="16.70" y="296.38" font-size="8.1" font-weight="normal" fill="#131722" stroke="#131722" stroke-width="0.08" text-anchor="start" textLength="20.3" lengthAdjust="spacingAndGlyphs" xml:space="preserve">28.00</text>
<text x="16.70" y="267.84" font-size="8.1" font-weight="normal" fill="#131722" stroke="#131722" stroke-width="0.08" text-anchor="start" textLength="20.3" lengthAdjust="spacingAndGlyphs" xml:space="preserve">32.00</text>
<text x="16.70" y="239.31" font-size="8.1" font-weight="normal" fill="#131722" stroke="#131722" stroke-width="0.08" text-anchor="start" textLength="20.3" lengthAdjust="spacingAndGlyphs" xml:space="preserve">36.00</text>
<text x="16.70" y="210.78" font-size="8.1" font-weight="normal" fill="#131722" stroke="#131722" stroke-width="0.08" text-anchor="start" textLength="20.3" lengthAdjust="spacingAndGlyphs" xml:space="preserve">40.00</text>
<text x="16.70" y="182.25" font-size="8.1" font-weight="normal" fill="#131722" stroke="#131722" stroke-width="0.08" text-anchor="start" textLength="20.3" lengthAdjust="spacingAndGlyphs" xml:space="preserve">44.00</text>
<text x="16.70" y="153.72" font-size="8.1" font-weight="normal" fill="#131722" stroke="#131722" stroke-width="0.08" text-anchor="start" textLength="20.3" lengthAdjust="spacingAndGlyphs" xml:space="preserve">48.00</text>
<text x="16.70" y="125.18" font-size="8.1" font-weight="normal" fill="#131722" stroke="#131722" stroke-width="0.08" text-anchor="start" textLength="20.3" lengthAdjust="spacingAndGlyphs" xml:space="preserve">52.00</text>
<text x="16.70" y="96.65" font-size="8.1" font-weight="normal" fill="#131722" stroke="#131722" stroke-width="0.08" text-anchor="start" textLength="20.3" lengthAdjust="spacingAndGlyphs" xml:space="preserve">56.00</text>
<text x="16.70" y="68.12" font-size="8.1" font-weight="normal" fill="#131722" stroke="#131722" stroke-width="0.08" text-anchor="start" textLength="20.3" lengthAdjust="spacingAndGlyphs" xml:space="preserve">60.00</text>
<text x="16.70" y="39.59" font-size="8.1" font-weight="normal" fill="#131722" stroke="#131722" stroke-width="0.08" text-anchor="start" textLength="20.3" lengthAdjust="spacingAndGlyphs" xml:space="preserve">64.00</text>
<rect x="6.5" y="16.85" width="35.3" height="20.15" fill="#fff"/>
<rect x="6.5" y="552.6" width="35.3" height="16.09999999999993" fill="#fff"/>
<rect x="8.6" y="18.6" width="31.6" height="16.0" rx="2.4" fill="#fff" stroke="#f0f1f3" stroke-width="0.8"/>
<text x="14.0" y="28.9" font-size="7.6" font-weight="normal" fill="#131722" stroke="#131722" stroke-width="0.2" text-anchor="start" textLength="15.0" lengthAdjust="spacingAndGlyphs" xml:space="preserve">USD</text>
<text x="6.1" y="12.0" font-size="7.7" font-weight="normal" fill="#131722" stroke="#131722" stroke-width="0.2" text-anchor="start" textLength="245" lengthAdjust="spacingAndGlyphs" xml:space="preserve">james30478 created with TradingView.com, Sep 22, 2025 13:30 UTC+1</text>
<text x="47.6" y="28.7" font-size="8.0" font-weight="normal" fill="#131722" stroke="#131722" stroke-width="0.22" text-anchor="start" textLength="99.3" lengthAdjust="spacingAndGlyphs" xml:space="preserve">IREN LIMITED · 1W · NASDAQ</text>
<text x="152.4" y="28.7" font-size="8.0" font-weight="normal" fill="#131722" stroke="#131722" stroke-width="0.22" text-anchor="start" textLength="4.9" lengthAdjust="spacingAndGlyphs" xml:space="preserve">O</text>
<text x="157.9" y="28.7" font-size="8.0" font-weight="normal" fill="#089981" stroke="#089981" stroke-width="0.15" text-anchor="start" textLength="19.1" lengthAdjust="spacingAndGlyphs" xml:space="preserve">34.77</text>
<text x="181.1" y="28.7" font-size="8.0" font-weight="normal" fill="#131722" stroke="#131722" stroke-width="0.22" text-anchor="start" textLength="4.7" lengthAdjust="spacingAndGlyphs" xml:space="preserve">H</text>
<text x="186.6" y="28.7" font-size="8.0" font-weight="normal" fill="#089981" stroke="#089981" stroke-width="0.15" text-anchor="start" textLength="19.5" lengthAdjust="spacingAndGlyphs" xml:space="preserve">39.87</text>
<text x="210.4" y="28.7" font-size="8.0" font-weight="normal" fill="#131722" stroke="#131722" stroke-width="0.22" text-anchor="start" textLength="3.3" lengthAdjust="spacingAndGlyphs" xml:space="preserve">L</text>
<text x="214.0" y="28.7" font-size="8.0" font-weight="normal" fill="#089981" stroke="#089981" stroke-width="0.15" text-anchor="start" textLength="18.7" lengthAdjust="spacingAndGlyphs" xml:space="preserve">34.10</text>
<text x="237.3" y="28.7" font-size="8.0" font-weight="normal" fill="#131722" stroke="#131722" stroke-width="0.22" text-anchor="start" textLength="4.9" lengthAdjust="spacingAndGlyphs" xml:space="preserve">C</text>
<text x="243.0" y="28.7" font-size="8.0" font-weight="normal" fill="#089981" stroke="#089981" stroke-width="0.15" text-anchor="start" textLength="19.0" lengthAdjust="spacingAndGlyphs" xml:space="preserve">38.64</text>
<text x="267.2" y="28.7" font-size="8.0" font-weight="normal" fill="#089981" stroke="#089981" stroke-width="0.15" text-anchor="start" textLength="19.0" lengthAdjust="spacingAndGlyphs" xml:space="preserve">+4.68</text>
<text x="289.6" y="28.7" font-size="8.0" font-weight="normal" fill="#089981" stroke="#089981" stroke-width="0.15" text-anchor="start" textLength="34.2" lengthAdjust="spacingAndGlyphs" xml:space="preserve">(+13.78%)</text>
<rect x="13.1" y="184.1" width="46.1" height="10.0" rx="1.6" fill="#fb8c00"/>
<rect x="42.1" y="184.1" width="0.6" height="10.0" fill="#fff" fill-opacity="0.55"/>
<text x="17.0" y="191.95" font-size="8.0" font-weight="normal" fill="#fff" fill-opacity="0.92" stroke="#fff" stroke-width="0" text-anchor="start" textLength="20.0" lengthAdjust="spacingAndGlyphs" xml:space="preserve">42.65</text>
<text x="45.1" y="191.95" font-size="8.0" font-weight="normal" fill="#fff" fill-opacity="0.92" stroke="#fff" stroke-width="0" text-anchor="start" textLength="10.8" lengthAdjust="spacingAndGlyphs" xml:space="preserve">Pre</text>
<rect x="13.1" y="212.4" width="51.300000000000004" height="10.400000000000006" rx="1.6" fill="#089981"/>
<rect x="42.1" y="212.4" width="0.6" height="10.400000000000006" fill="#fff" fill-opacity="0.55"/>
<text x="17.0" y="220.45" font-size="8.0" font-weight="normal" fill="#fff" fill-opacity="0.92" stroke="#fff" stroke-width="0" text-anchor="start" textLength="20.0" lengthAdjust="spacingAndGlyphs" xml:space="preserve">38.64</text>
<text x="45.1" y="220.45" font-size="8.0" font-weight="normal" fill="#fff" fill-opacity="0.92" stroke="#fff" stroke-width="0" text-anchor="start" textLength="16.1" lengthAdjust="spacingAndGlyphs" xml:space="preserve">IREN</text>
<text x="68.00" y="564.0" font-size="7.5" font-weight="bold" fill="#131722" stroke="#131722" stroke-width="0.1" text-anchor="start" textLength="18.4" lengthAdjust="spacing" xml:space="preserve">2022</text>
<text x="112.75" y="564.0" font-size="7.5" font-weight="normal" fill="#131722" stroke="#131722" stroke-width="0.08" text-anchor="start" textLength="12.3" lengthAdjust="spacingAndGlyphs" xml:space="preserve">Mar</text>
<text x="149.15" y="564.0" font-size="7.5" font-weight="normal" fill="#131722" stroke="#131722" stroke-width="0.08" text-anchor="start" textLength="13.3" lengthAdjust="spacingAndGlyphs" xml:space="preserve">May</text>
<text x="193.00" y="564.0" font-size="7.5" font-weight="normal" fill="#131722" stroke="#131722" stroke-width="0.08" text-anchor="start" textLength="8.6" lengthAdjust="spacingAndGlyphs" xml:space="preserve">Jul</text>
<text x="232.60" y="564.0" font-size="7.5" font-weight="normal" fill="#131722" stroke="#131722" stroke-width="0.08" text-anchor="start" textLength="13.2" lengthAdjust="spacingAndGlyphs" xml:space="preserve">Sep</text>
<text x="274.50" y="564.0" font-size="7.5" font-weight="normal" fill="#131722" stroke="#131722" stroke-width="0.08" text-anchor="start" textLength="13.0" lengthAdjust="spacingAndGlyphs" xml:space="preserve">Nov</text>
<text x="308.60" y="564.0" font-size="7.5" font-weight="bold" fill="#131722" stroke="#131722" stroke-width="0.1" text-anchor="start" textLength="18.4" lengthAdjust="spacing" xml:space="preserve">2023</text>
<text x="353.05" y="564.0" font-size="7.5" font-weight="normal" fill="#131722" stroke="#131722" stroke-width="0.08" text-anchor="start" textLength="12.3" lengthAdjust="spacingAndGlyphs" xml:space="preserve">Mar</text>
<text x="389.65" y="564.0" font-size="7.5" font-weight="normal" fill="#131722" stroke="#131722" stroke-width="0.08" text-anchor="start" textLength="13.3" lengthAdjust="spacingAndGlyphs" xml:space="preserve">May</text>
<text x="433.60" y="564.0" font-size="7.5" font-weight="normal" fill="#131722" stroke="#131722" stroke-width="0.08" text-anchor="start" textLength="8.6" lengthAdjust="spacingAndGlyphs" xml:space="preserve">Jul</text>
<text x="472.80" y="564.0" font-size="7.5" font-weight="normal" fill="#131722" stroke="#131722" stroke-width="0.08" text-anchor="start" textLength="13.2" lengthAdjust="spacingAndGlyphs" xml:space="preserve">Sep</text>
<text x="514.90" y="564.0" font-size="7.5" font-weight="normal" fill="#131722" stroke="#131722" stroke-width="0.08" text-anchor="start" textLength="13.0" lengthAdjust="spacingAndGlyphs" xml:space="preserve">Nov</text>
<text x="549.00" y="564.0" font-size="7.5" font-weight="bold" fill="#131722" stroke="#131722" stroke-width="0.1" text-anchor="start" textLength="18.4" lengthAdjust="spacing" xml:space="preserve">2024</text>
<text x="593.45" y="564.0" font-size="7.5" font-weight="normal" fill="#131722" stroke="#131722" stroke-width="0.08" text-anchor="start" textLength="12.3" lengthAdjust="spacingAndGlyphs" xml:space="preserve">Mar</text>
<text x="634.55" y="564.0" font-size="7.5" font-weight="normal" fill="#131722" stroke="#131722" stroke-width="0.08" text-anchor="start" textLength="13.3" lengthAdjust="spacingAndGlyphs" xml:space="preserve">May</text>
<text x="674.00" y="564.0" font-size="7.5" font-weight="normal" fill="#131722" stroke="#131722" stroke-width="0.08" text-anchor="start" textLength="8.6" lengthAdjust="spacingAndGlyphs" xml:space="preserve">Jul</text>
<text x="713.40" y="564.0" font-size="7.5" font-weight="normal" fill="#131722" stroke="#131722" stroke-width="0.08" text-anchor="start" textLength="13.2" lengthAdjust="spacingAndGlyphs" xml:space="preserve">Sep</text>
<text x="755.00" y="564.0" font-size="7.5" font-weight="normal" fill="#131722" stroke="#131722" stroke-width="0.08" text-anchor="start" textLength="13.0" lengthAdjust="spacingAndGlyphs" xml:space="preserve">Nov</text>
<text x="793.90" y="564.0" font-size="7.5" font-weight="bold" fill="#131722" stroke="#131722" stroke-width="0.1" text-anchor="start" textLength="18.4" lengthAdjust="spacing" xml:space="preserve">2025</text>
<text x="834.05" y="564.0" font-size="7.5" font-weight="normal" fill="#131722" stroke="#131722" stroke-width="0.08" text-anchor="start" textLength="12.3" lengthAdjust="spacingAndGlyphs" xml:space="preserve">Mar</text>
<text x="874.95" y="564.0" font-size="7.5" font-weight="normal" fill="#131722" stroke="#131722" stroke-width="0.08" text-anchor="start" textLength="13.3" lengthAdjust="spacingAndGlyphs" xml:space="preserve">May</text>
<text x="918.90" y="564.0" font-size="7.5" font-weight="normal" fill="#131722" stroke="#131722" stroke-width="0.08" text-anchor="start" textLength="8.6" lengthAdjust="spacingAndGlyphs" xml:space="preserve">Jul</text>
<text x="953.50" y="564.0" font-size="7.5" font-weight="normal" fill="#131722" stroke="#131722" stroke-width="0.08" text-anchor="start" textLength="13.2" lengthAdjust="spacingAndGlyphs" xml:space="preserve">Sep</text>
<text x="994.80" y="564.0" font-size="7.5" font-weight="normal" fill="#131722" stroke="#131722" stroke-width="0.08" text-anchor="start" textLength="13.0" lengthAdjust="spacingAndGlyphs" xml:space="preserve">Nov</text>
<path d="M95.32 542.3 L99.42 539.7 Q100.62 538.9000000000001 101.82 539.7 L105.92 542.3 V548.4000000000001 Q105.92 550.2 104.12 550.2 H97.12 Q95.32 550.2 95.32 548.4000000000001 Z" fill="#fff" stroke="#16a08a" stroke-width="1.3" stroke-linejoin="round"/>
<text x="98.87" y="547.9" font-size="8.2" font-weight="bold" fill="#16a08a" stroke="#16a08a" stroke-width="0.25" textLength="3.5" lengthAdjust="spacingAndGlyphs">E</text>
<path d="M479.04 542.3 L483.14 539.7 Q484.34 538.9000000000001 485.54 539.7 L489.64 542.3 V548.4000000000001 Q489.64 550.2 487.84 550.2 H480.84 Q479.04 550.2 479.04 548.4000000000001 Z" fill="#fff" stroke="#16a08a" stroke-width="1.3" stroke-linejoin="round"/>
<text x="482.59" y="547.9" font-size="8.2" font-weight="bold" fill="#16a08a" stroke="#16a08a" stroke-width="0.25" textLength="3.5" lengthAdjust="spacingAndGlyphs">E</text>
<path d="M640.86 542.3 L644.96 539.7 Q646.16 538.9000000000001 647.36 539.7 L651.46 542.3 V548.4000000000001 Q651.46 550.2 649.66 550.2 H642.66 Q640.86 550.2 640.86 548.4000000000001 Z" fill="#fff" stroke="#16a08a" stroke-width="1.3" stroke-linejoin="round"/>
<text x="644.41" y="547.9" font-size="8.2" font-weight="bold" fill="#16a08a" stroke="#16a08a" stroke-width="0.25" textLength="3.5" lengthAdjust="spacingAndGlyphs">E</text>
<path d="M821.16 542.3 L825.26 539.7 Q826.46 538.9000000000001 827.66 539.7 L831.76 542.3 V548.4000000000001 Q831.76 550.2 829.96 550.2 H822.96 Q821.16 550.2 821.16 548.4000000000001 Z" fill="#fff" stroke="#16a08a" stroke-width="1.3" stroke-linejoin="round"/>
<text x="824.71" y="547.9" font-size="8.2" font-weight="bold" fill="#16a08a" stroke="#16a08a" stroke-width="0.25" textLength="3.5" lengthAdjust="spacingAndGlyphs">E</text>
<path d="M950.20 542.3 L954.30 539.7 Q955.50 538.9000000000001 956.70 539.7 L960.80 542.3 V548.4000000000001 Q960.80 550.2 959.00 550.2 H952.00 Q950.20 550.2 950.20 548.4000000000001 Z" fill="#fff" stroke="#16a08a" stroke-width="1.3" stroke-linejoin="round"/>
<text x="953.75" y="547.9" font-size="8.2" font-weight="bold" fill="#16a08a" stroke="#16a08a" stroke-width="0.25" textLength="3.5" lengthAdjust="spacingAndGlyphs">E</text>
<path d="M157.42 539.7 H164.02 Q165.82 539.7 165.82 541.5 V547.2 L161.92 550.3000000000001 Q160.72 551.1 159.52 550.3000000000001 L155.62 547.2 V541.5 Q155.62 539.7 157.42 539.7 Z" fill="#fff" stroke="#f5475a" stroke-width="1.3" stroke-linejoin="round"/>
<text x="158.97" y="546.9" font-size="8.2" font-weight="bold" fill="#f5475a" stroke="#f5475a" stroke-width="0.25" textLength="3.5" lengthAdjust="spacingAndGlyphs">E</text>
<path d="M342.35 539.7 H348.95 Q350.75 539.7 350.75 541.5 V547.2 L346.85 550.3000000000001 Q345.65 551.1 344.45 550.3000000000001 L340.55 547.2 V541.5 Q340.55 539.7 342.35 539.7 Z" fill="#fff" stroke="#f5475a" stroke-width="1.3" stroke-linejoin="round"/>
<text x="343.90" y="546.9" font-size="8.2" font-weight="bold" fill="#f5475a" stroke="#f5475a" stroke-width="0.25" textLength="3.5" lengthAdjust="spacingAndGlyphs">E</text>
<path d="M397.83 539.7 H404.43 Q406.23 539.7 406.23 541.5 V547.2 L402.33 550.3000000000001 Q401.13 551.1 399.93 550.3000000000001 L396.03 547.2 V541.5 Q396.03 539.7 397.83 539.7 Z" fill="#fff" stroke="#f5475a" stroke-width="1.3" stroke-linejoin="round"/>
<text x="399.38" y="546.9" font-size="8.2" font-weight="bold" fill="#f5475a" stroke="#f5475a" stroke-width="0.25" textLength="3.5" lengthAdjust="spacingAndGlyphs">E</text>
<path d="M582.75 539.7 H589.35 Q591.15 539.7 591.15 541.5 V547.2 L587.25 550.3000000000001 Q586.05 551.1 584.85 550.3000000000001 L580.95 547.2 V541.5 Q580.95 539.7 582.75 539.7 Z" fill="#fff" stroke="#f5475a" stroke-width="1.3" stroke-linejoin="round"/>
<text x="584.30" y="546.9" font-size="8.2" font-weight="bold" fill="#f5475a" stroke="#f5475a" stroke-width="0.25" textLength="3.5" lengthAdjust="spacingAndGlyphs">E</text>
<path d="M712.20 539.7 H718.80 Q720.60 539.7 720.60 541.5 V547.2 L716.70 550.3000000000001 Q715.50 551.1 714.30 550.3000000000001 L710.40 547.2 V541.5 Q710.40 539.7 712.20 539.7 Z" fill="#fff" stroke="#f5475a" stroke-width="1.3" stroke-linejoin="round"/>
<text x="713.75" y="546.9" font-size="8.2" font-weight="bold" fill="#f5475a" stroke="#f5475a" stroke-width="0.25" textLength="3.5" lengthAdjust="spacingAndGlyphs">E</text>
<path d="M772.31 539.7 H778.91 Q780.71 539.7 780.71 541.5 V547.2 L776.81 550.3000000000001 Q775.61 551.1 774.41 550.3000000000001 L770.51 547.2 V541.5 Q770.51 539.7 772.31 539.7 Z" fill="#fff" stroke="#f5475a" stroke-width="1.3" stroke-linejoin="round"/>
<text x="773.86" y="546.9" font-size="8.2" font-weight="bold" fill="#f5475a" stroke="#f5475a" stroke-width="0.25" textLength="3.5" lengthAdjust="spacingAndGlyphs">E</text>
<path d="M883.26 539.7 H889.86 Q891.66 539.7 891.66 541.5 V547.2 L887.76 550.3000000000001 Q886.56 551.1 885.36 550.3000000000001 L881.46 547.2 V541.5 Q881.46 539.7 883.26 539.7 Z" fill="#fff" stroke="#f5475a" stroke-width="1.3" stroke-linejoin="round"/>
<text x="884.81" y="546.9" font-size="8.2" font-weight="bold" fill="#f5475a" stroke="#f5475a" stroke-width="0.25" textLength="3.5" lengthAdjust="spacingAndGlyphs">E</text>
<circle cx="969.6" cy="544.9" r="6.0" fill="#fff" stroke="#b65cc8" stroke-width="1.1"/>
<path d="M971.1 541.9 L967.3 545.5 H969.5 L968.0 548.2 L971.8 544.5 H969.6 Z" fill="#9c27b0"/>
<circle cx="973.8" cy="540.8" r="2.4" fill="#fff"/>
<circle cx="973.8" cy="540.8" r="1.7" fill="#f23645"/>
<g transform="translate(7.2,581.2) scale(0.5,0.49)" fill="#0a0b10">
<path d="M14 22H7V11H0V4h14v18z"/><circle cx="20" cy="8" r="4"/><path d="M28 22h-8l7.5-18h8L28 22z"/>
</g>
<text x="29.8" y="591.9" font-size="12.6" font-weight="bold" fill="#0a0b10" stroke="#0a0b10" stroke-width="0" text-anchor="start" textLength="73.0" lengthAdjust="spacingAndGlyphs" xml:space="preserve">TradingView</text>
</svg>
</body></html>
